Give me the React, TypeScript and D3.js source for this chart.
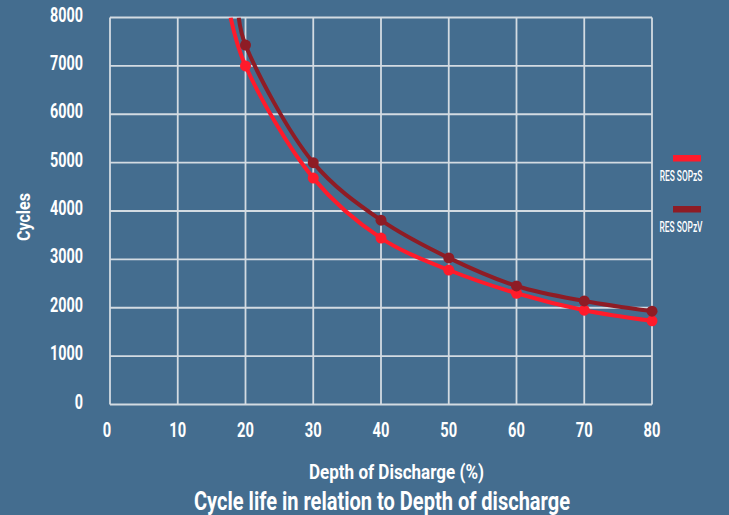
import React from 'react';
import * as d3 from 'd3';

// Depth of discharge (%) where markers sit
const dod = [20, 30, 40, 50, 60, 70, 80];
// cycles
const sopzS = [7000, 4680, 3440, 2780, 2300, 1950, 1730];
const sopzV = [7430, 5000, 3810, 3030, 2450, 2140, 1930];
// where each curve leaves the top of the plot
const leadS = { x: 17.8, y: 8000 };
const leadV = { x: 19.0, y: 8000 };

const xTicks = [0, 10, 20, 30, 40, 50, 60, 70, 80];
const yTicks = [0, 1000, 2000, 3000, 4000, 5000, 6000, 7000, 8000];

const series = [
  { name: 'RES SOPzS', color: '#ff1b2b', values: sopzS, lead: leadS },
  { name: 'RES SOPzV', color: '#8e1c25', values: sopzV, lead: leadV },
];

const W = 729;
const H = 515;
const FONT = 'Roboto, "Liberation Sans", sans-serif';
const BG = '#446d8f';
const GRID = '#d3dbe2';

// condensed text: the reference uses a narrow face, so squeeze Roboto
function NarrowText({ x, y, sx = 0.72, size, anchor = 'middle', weight = 700, children }: any) {
  return (
    <text
      transform={`translate(${x},${y}) scale(${sx},1)`}
      textAnchor={anchor}
      fill="#fff"
      fontSize={size}
      fontWeight={weight}
    >
      {children}
    </text>
  );
}

// text stretched to a measured width, centred on x
function FitText({ x, y, len, size, weight = 700, rotate = 0, children }: any) {
  return (
    <text
      transform={`translate(${x},${y}) rotate(${rotate})`}
      textAnchor="middle"
      textLength={len}
      lengthAdjust="spacingAndGlyphs"
      fill="#fff"
      fontSize={size}
      fontWeight={weight}
    >
      {children}
    </text>
  );
}

export default function App() {
  const x = d3.scaleLinear().domain([0, 80]).range([110, 652]);
  const y = d3.scaleLinear().domain([0, 8000]).range([404.5, 17.5]);

  const line = d3
    .line<{ x: number; y: number }>()
    .x(d => x(d.x))
    .y(d => y(d.y))
    .curve(d3.curveCatmullRom.alpha(0.5));

  return (
    <svg
      width={W}
      height={H}
      style={{ position: 'absolute', left: 0, top: 0, background: BG }}
      fontFamily={FONT}
    >
      <rect x={0} y={0} width={W} height={H} fill={BG} />
      <defs>
        <clipPath id="plot">
          <rect x={x(0)} y={y(8000)} width={x(80) - x(0)} height={y(0) - y(8000)} />
        </clipPath>
      </defs>

      {/* grid */}
      {xTicks.map(t => (
        <line key={'gx' + t} x1={x(t)} x2={x(t)} y1={y(0)} y2={y(8000)} stroke={GRID} strokeWidth={1.8} />
      ))}
      {yTicks.map(t => (
        <line key={'gy' + t} x1={x(0)} x2={x(80)} y1={y(t)} y2={y(t)} stroke={GRID} strokeWidth={1.8} />
      ))}

      {/* tick labels */}
      {yTicks.map(t => (
        <NarrowText key={'ty' + t} x={83} y={y(t) + 4} size={20} anchor="end">
          {t}
        </NarrowText>
      ))}
      {xTicks.map(t => (
        <NarrowText key={'tx' + t} x={x(t) - (t === 0 ? 3 : 0)} y={437} size={21} sx={0.7}>
          {t}
        </NarrowText>
      ))}

      {/* curves */}
      <g clipPath="url(#plot)">
        {series.map(s => {
          const pts = [s.lead, ...dod.map((d, i) => ({ x: d, y: s.values[i] }))];
          return (
            <path key={s.name} d={line(pts) || ''} fill="none" stroke={s.color} strokeWidth={4} />
          );
        })}
      </g>
      {series.map(s =>
        dod.map((d, i) => (
          <circle key={s.name + d} cx={x(d)} cy={y(s.values[i])} r={5.5} fill={s.color} />
        ))
      )}

      {/* legend */}
      {series.map((s, i) => (
        <g key={'lg' + s.name} transform={`translate(0, ${i * 51})`}>
          <rect x={673} y={155} width={28} height={6.5} fill={s.color} />
          <NarrowText x={681} y={180.5} size={14} sx={0.6} weight={500}>
            {s.name}
          </NarrowText>
        </g>
      ))}

      {/* axis titles */}
      <FitText x={30} y={217} len={48} size={19} rotate={-90}>
        Cycles
      </FitText>
      <FitText x={396.5} y={479} len={175} size={19.5}>
        Depth of Discharge (%)
      </FitText>
      <FitText x={382} y={509.5} len={376} size={25}>
        Cycle life in relation to Depth of discharge
      </FitText>
    </svg>
  );
}
